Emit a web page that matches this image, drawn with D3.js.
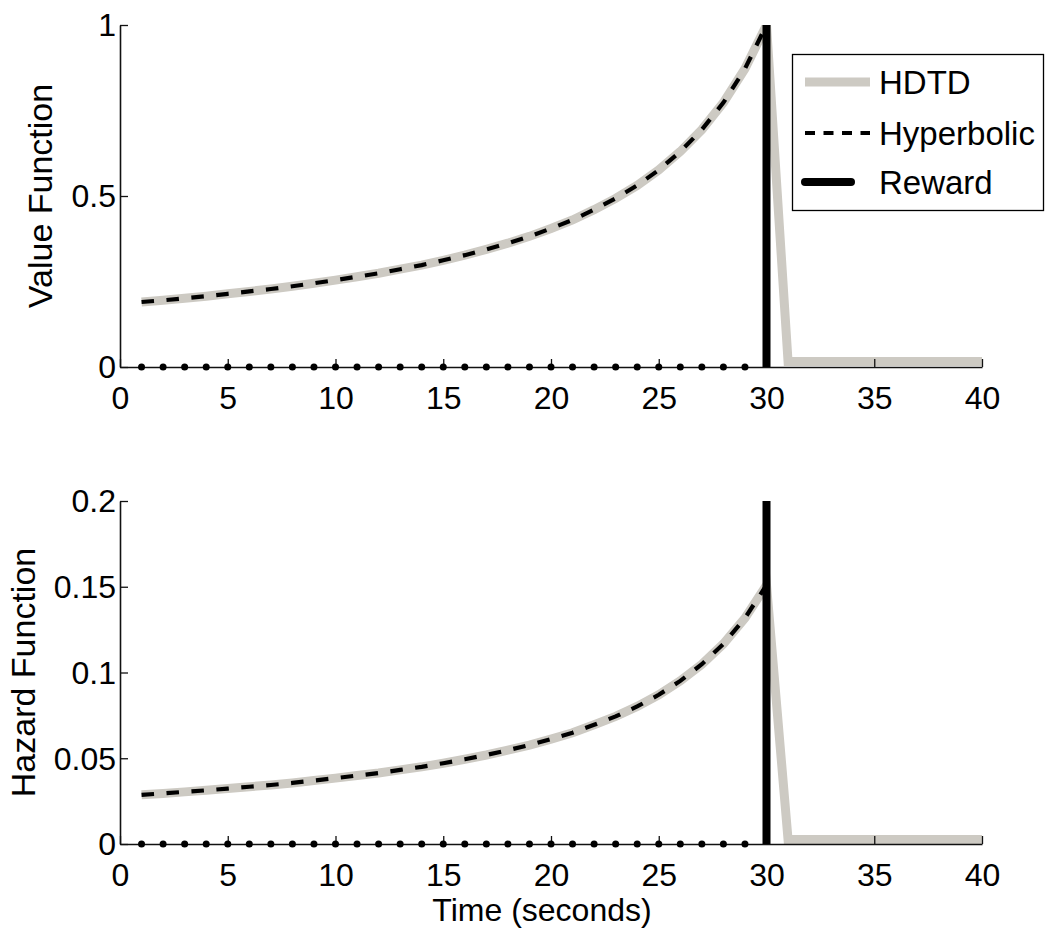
<!DOCTYPE html>
<html>
<head>
<meta charset="utf-8">
<script src="https://cdn.jsdelivr.net/npm/d3@7"></script>
<style>
  html, body { margin: 0; padding: 0; background: #fff; }
  svg { display: block; }
  text { font-family: "Liberation Sans", Arial, Helvetica, sans-serif; fill: #000; }
</style>
</head>
<body>
<svg id="chart" width="1050" height="939"></svg>
<script>
// ---------------- data ----------------
const time = [1,2,3,4,5,6,7,8,9,10,11,12,13,14,15,16,17,18,19,20,
              21,22,23,24,25,26,27,28,29,30,31,32,33,34,35,36,37,38,39,40];
const rewardTime = [1,2,3,4,5,6,7,8,9,10,11,12,13,14,15,16,17,18,19,20,
                    21,22,23,24,25,26,27,28,29,30];
const rewardValues = [0,0,0,0,0,0,0,0,0,0,0,0,0,0,0,0,0,0,0,0,
                      0,0,0,0,0,0,0,0,0,1];

// Value function (top panel)
const hyperbolicValue = [0.190,0.195,0.201,0.207,0.214,0.221,0.228,0.236,0.245,0.254,
                         0.264,0.274,0.286,0.298,0.312,0.327,0.344,0.362,0.382,0.405,
                         0.430,0.460,0.493,0.531,0.576,0.630,0.694,0.773,0.872,1.000];
const hdtdValue = [0.190,0.195,0.201,0.207,0.214,0.221,0.228,0.236,0.245,0.254,
                   0.264,0.274,0.286,0.298,0.312,0.327,0.344,0.362,0.382,0.405,
                   0.430,0.460,0.493,0.531,0.576,0.630,0.694,0.773,0.872,1.000,
                   0.016,0.016,0.016,0.016,0.016,0.016,0.016,0.016,0.016,0.016];

// Hazard function (bottom panel)
const hyperbolicHazard = [0.0287,0.0295,0.0304,0.0313,0.0323,0.0334,0.0344,0.0356,0.0370,0.0384,
                          0.0399,0.0414,0.0432,0.0450,0.0471,0.0494,0.0519,0.0547,0.0577,0.0612,
                          0.0649,0.0695,0.0744,0.0802,0.0870,0.0951,0.1048,0.1167,0.1317,0.1510];
const hdtdHazard = [0.0287,0.0295,0.0304,0.0313,0.0323,0.0334,0.0344,0.0356,0.0370,0.0384,
                    0.0399,0.0414,0.0432,0.0450,0.0471,0.0494,0.0519,0.0547,0.0577,0.0612,
                    0.0649,0.0695,0.0744,0.0802,0.0870,0.0951,0.1048,0.1167,0.1317,0.1510,
                    0.0026,0.0026,0.0026,0.0026,0.0026,0.0026,0.0026,0.0026,0.0026,0.0026];

const xTicks = [0,5,10,15,20,25,30,35,40];
const xTickLabels = ["0","5","10","15","20","25","30","35","40"];
const topYTicks = [0,0.5,1];
const topYTickLabels = ["0","0.5","1"];
const botYTicks = [0,0.05,0.1,0.15,0.2];
const botYTickLabels = ["0","0.05","0.1","0.15","0.2"];
const legendLabels = ["HDTD","Hyperbolic","Reward"];

// ---------------- drawing ----------------
const svg = d3.select("#chart");
const GRAY = "#cdcac3";
const TICK_FONT = 32;

const x = d3.scaleLinear().domain([0,40]).range([120,982]);

function panel(id, yDomain, yRange, yTicks, yTickLabels, hdtd, hyper, yLabel, yLabelX) {
  const y = d3.scaleLinear().domain(yDomain).range(yRange);
  const g = svg.append("g");

  const clipId = "clip-" + id;
  svg.append("defs").append("clipPath").attr("id", clipId)
    .append("rect")
    .attr("x", x.range()[0]).attr("y", yRange[1])
    .attr("width", x.range()[1] - x.range()[0])
    .attr("height", yRange[0] - yRange[1]);

  const data = g.append("g").attr("clip-path", `url(#${clipId})`);

  // HDTD thick gray line
  data.append("path")
    .datum(time.map((t,i) => [t, hdtd[i]]))
    .attr("fill","none").attr("stroke",GRAY).attr("stroke-width",9)
    .attr("stroke-linejoin","miter")
    .attr("d", d3.line().x(d => x(d[0])).y(d => y(d[1])));

  // Hyperbolic dashed
  data.append("path")
    .datum(rewardTime.map((t,i) => [t, hyper[i]]))
    .attr("fill","none").attr("stroke","#000").attr("stroke-width",4.2)
    .attr("stroke-dasharray","12.5,12.5")
    .attr("d", d3.line().x(d => x(d[0])).y(d => y(d[1])));

  // axes
  const xAxis = d3.axisBottom(x).tickValues(xTicks)
    .tickFormat((d,i) => xTickLabels[i]).tickSizeInner(-8).tickSizeOuter(0).tickPadding(0);
  const gx = g.append("g").attr("transform", `translate(0,${yRange[0]})`).call(xAxis);
  gx.select(".domain").attr("stroke","#111").attr("stroke-width",1.6);
  gx.selectAll(".tick line").attr("stroke","#111").attr("stroke-width",1.3);
  gx.selectAll(".tick text").attr("y",42).attr("dy",null)
    .attr("font-size",TICK_FONT).attr("fill","#000")
    .style("font-family",'"Liberation Sans", Arial, sans-serif');

  const yAxis = d3.axisLeft(y).tickValues(yTicks)
    .tickFormat((d,i) => yTickLabels[i]).tickSizeInner(-8).tickSizeOuter(0).tickPadding(0);
  const gy = g.append("g").attr("transform", `translate(${x.range()[0]},0)`).call(yAxis);
  gy.select(".domain").attr("stroke","#111").attr("stroke-width",1.6);
  gy.selectAll(".tick line").attr("stroke","#111").attr("stroke-width",1.3);
  gy.selectAll(".tick text").attr("x",-4).attr("dy","0.34em")
    .attr("font-size",TICK_FONT).attr("fill","#000").attr("text-anchor","end")
    .style("font-family",'"Liberation Sans", Arial, sans-serif');

  // Reward: dots at zero, thick bar where reward occurs
  svg.append("defs").append("clipPath").attr("id", clipId + "-r")
    .append("rect")
    .attr("x", x.range()[0]).attr("y", yRange[1])
    .attr("width", x.range()[1] - x.range()[0])
    .attr("height", yRange[0] - yRange[1] + 10);
  const rew = g.append("g").attr("clip-path", `url(#${clipId}-r)`);
  const pts = rewardTime.map((t,i) => ({t, v: rewardValues[i]}));
  rew.selectAll("circle").data(pts.filter(d => d.v === 0)).join("circle")
    .attr("cx", d => x(d.t)).attr("cy", d => y(0)).attr("r", 3.5).attr("fill","#000");
  rew.selectAll("line.rw").data(pts.filter(d => d.v !== 0)).join("line")
    .attr("class","rw")
    .attr("x1", d => x(d.t)).attr("x2", d => x(d.t))
    .attr("y1", y(0)).attr("y2", d => Math.max(y(d.v), yRange[1]))
    .attr("stroke","#000").attr("stroke-width",8);

  // y label
  svg.append("text")
    .attr("transform", `translate(${yLabelX},${(yRange[0]+yRange[1])/2}) rotate(-90)`)
    .attr("text-anchor","middle").attr("font-size",34)
    .text(yLabel);
  return y;
}

panel("top", [0,1], [367,25], topYTicks, topYTickLabels, hdtdValue, hyperbolicValue, "Value Function", 52);
panel("bot", [0,0.2], [844,501], botYTicks, botYTickLabels, hdtdHazard, hyperbolicHazard, "Hazard Function", 35);

// x label
svg.append("text")
  .attr("x", (x.range()[0]+x.range()[1])/2 - 9).attr("y", 921)
  .attr("text-anchor","middle").attr("font-size",32)
  .text("Time (seconds)");

// legend
const lg = svg.append("g");
lg.append("rect").attr("x",792.5).attr("y",54.5).attr("width",251).attr("height",156)
  .attr("fill","#fff").attr("stroke","#000").attr("stroke-width",1.3);
const legendRows = [
  {y: 82, stroke: GRAY, width: 9, dash: null, x2: 870, cap: "butt"},
  {y: 133, stroke: "#000", width: 4, dash: "10,8.5", x2: 870, cap: "butt"},
  {y: 182, stroke: "#000", width: 8, dash: null, x2: 851, cap: "round"}
];
legendRows.forEach((r,i) => {
  lg.append("line").attr("x1", 805).attr("x2", r.x2).attr("y1", r.y).attr("y2", r.y)
    .attr("stroke", r.stroke).attr("stroke-width", r.width)
    .attr("stroke-dasharray", r.dash).attr("stroke-linecap", r.cap);
  lg.append("text").attr("x", 879).attr("y", r.y + 12).attr("font-size",33)
    .text(legendLabels[i]);
});
</script>
</body>
</html>
